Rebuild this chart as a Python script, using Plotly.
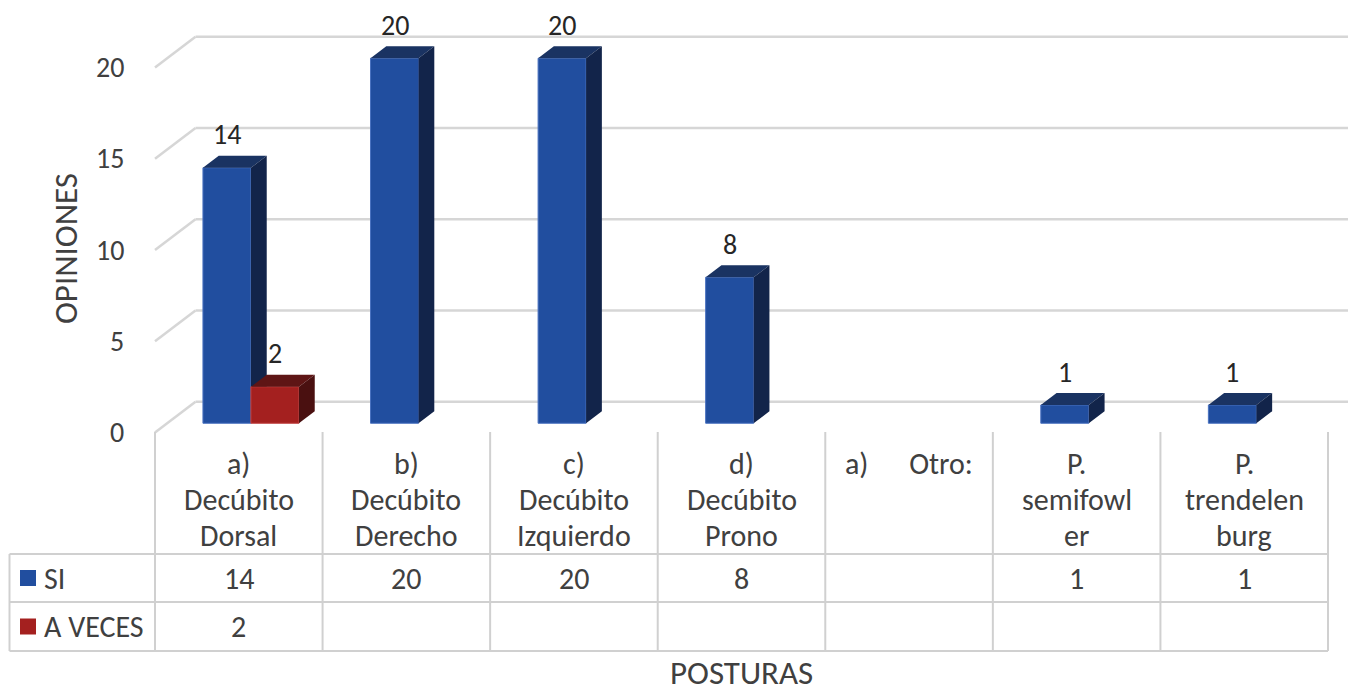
import plotly.graph_objects as go

# ---- data -------------------------------------------------------------
categories = [
    "a)<br>Decúbito<br>Dorsal",
    "b)<br>Decúbito<br>Derecho",
    "c)<br>Decúbito<br>Izquierdo",
    "d)<br>Decúbito<br>Prono",
    "a)\u00a0\u00a0\u00a0\u00a0\u00a0\u00a0Otro:",
    "P.<br>semifowl<br>er",
    "P.<br>trendelen<br>burg",
]
si_values = [14, 20, 20, 8, None, 1, 1]
a_veces_values = [2, None, None, None, None, None, None]
series_names = ["SI", "A VECES"]
y_tick_values = [0, 5, 10, 15, 20]
x_title = "POSTURAS"
y_title = "OPINIONES"

# ---- styling / geometry ----------------------------------------------
W, H = 1348, 694
FONT = "Carlito, Calibri, Lato, sans-serif"
TEXT = "#404040"
GRID = "#D6D6D6"
TABLE_LINE = "#D0D0D0"

FRONT = ["#214E9F", "#A4201F"]
TOP = ["#1A3362", "#5E1515"]
SIDE = ["#12244A", "#4A1010"]
EDGE = ["#4A72C0", "#C04040"]

COL_PX = 167.57          # width of one category column
LEFT_PX = 155.0          # left edge of the first category column
UNIT_PX = 18.25          # pixels per value unit
FLOOR_PX = 432.5         # front edge of the floor (value 0)

WALL_DX_PX, WALL_DY_PX = 40.5, 30.8     # depth of the 3D box
BAR_DEPTH0 = 0.30                        # where bars start inside the box
BAR_DEPTH = 0.39                         # depth of each bar
BAR_W_PX = 48.0

TITLE_SIZE = 33
TABLE_SIZE = 30
TICK_SIZE = 28
LABEL_SIZE = 28


def px_x(px):
    return -0.5 + (px - LEFT_PX) / COL_PX


x_range = [px_x(0), px_x(W)]
y_range = [-(H - FLOOR_PX) / UNIT_PX, FLOOR_PX / UNIT_PX]

wall_dx = WALL_DX_PX / COL_PX
wall_dy = WALL_DY_PX / UNIT_PX
lift_x = BAR_DEPTH0 * wall_dx
lift_y = BAR_DEPTH0 * wall_dy
bar_dx = BAR_DEPTH * wall_dx
bar_dy = BAR_DEPTH * wall_dy
bar_w = BAR_W_PX / COL_PX

# table rows (pixel rows measured from the top)
HEADER_TOP, ROW1_TOP, ROW2_TOP, TABLE_BOTTOM = 432, 554, 602, 651
HEADER_LINES = [463, 499, 535]
LEGEND_LEFT_PX = 9.5

fig = go.Figure()
annotations = []

all_series = [si_values, a_veces_values]
axes_pairs = [("x", "y"), ("x2", "y2")]

for s, values in enumerate(all_series):
    xa, ya = axes_pairs[s]
    # centre of each bar: clustered pair, shifted into the box depth
    xs = [i + lift_x + (s - 0.5) * bar_w for i in range(len(categories))]

    fig.add_trace(go.Bar(
        x=xs, y=values, base=lift_y, width=bar_w,
        marker=dict(color=FRONT[s], line=dict(color=EDGE[s], width=1)),
        name=series_names[s], xaxis=xa, yaxis=ya, showlegend=False,
    ))

    top_x, top_y, side_x, side_y = [], [], [], []
    for xc, v in zip(xs, values):
        if v is None:
            continue
        x0, x1 = xc - bar_w / 2, xc + bar_w / 2
        y0, y1 = lift_y, lift_y + v
        top_x += [x0, x1, x1 + bar_dx, x0 + bar_dx, x0, None]
        top_y += [y1, y1, y1 + bar_dy, y1 + bar_dy, y1, None]
        side_x += [x1, x1 + bar_dx, x1 + bar_dx, x1, x1, None]
        side_y += [y0, y0 + bar_dy, y1 + bar_dy, y1, y0, None]

    fig.add_trace(go.Scatter(
        x=top_x, y=top_y, mode="lines", fill="toself", fillcolor=TOP[s],
        line=dict(width=0, color=TOP[s]), xaxis=xa, yaxis=ya,
        showlegend=False, hoverinfo="skip"))
    fig.add_trace(go.Scatter(
        x=side_x, y=side_y, mode="lines", fill="toself", fillcolor=SIDE[s],
        line=dict(width=0, color=SIDE[s]), xaxis=xa, yaxis=ya,
        showlegend=False, hoverinfo="skip"))

    # value labels above the bars
    for xc, v in zip(xs, values):
        if v is None:
            continue
        annotations.append(dict(
            x=xc, y=lift_y + v + 33 / UNIT_PX, xref=xa, yref=ya,
            text=str(v), showarrow=False,
            font=dict(family=FONT, size=LABEL_SIZE, color="#262626")))

# legend keys inside the data table
row_centres = [(ROW1_TOP + ROW2_TOP) / 2, (ROW2_TOP + TABLE_BOTTOM) / 2]
fig.add_trace(go.Scatter(
    x=[px_x(28), px_x(28)], y=row_centres,
    mode="markers", marker=dict(symbol="square", size=16, color=FRONT),
    xaxis="x", yaxis="y3", showlegend=False, hoverinfo="skip"))

shapes = []
# back wall and side wall gridlines
for v in y_tick_values:
    shapes.append(dict(type="line", xref="x", yref="y", layer="below",
                       x0=-0.5, y0=v, x1=-0.5 + wall_dx, y1=v + wall_dy,
                       line=dict(color=GRID, width=2.5)))
    shapes.append(dict(type="line", xref="x", yref="y", layer="below",
                       x0=-0.5 + wall_dx, y0=v + wall_dy, x1=x_range[1], y1=v + wall_dy,
                       line=dict(color=GRID, width=2.5)))

# data table grid
n = len(categories)
for i in range(n + 1):
    shapes.append(dict(type="line", xref="x", yref="y3",
                       x0=i - 0.5, x1=i - 0.5, y0=HEADER_TOP, y1=TABLE_BOTTOM,
                       line=dict(color=TABLE_LINE, width=2)))
shapes.append(dict(type="line", xref="x", yref="y3",
                   x0=px_x(LEGEND_LEFT_PX), x1=px_x(LEGEND_LEFT_PX),
                   y0=ROW1_TOP, y1=TABLE_BOTTOM,
                   line=dict(color=TABLE_LINE, width=2)))
for yy in (ROW1_TOP, ROW2_TOP, TABLE_BOTTOM):
    shapes.append(dict(type="line", xref="x", yref="y3",
                       x0=px_x(LEGEND_LEFT_PX), x1=n - 0.5, y0=yy, y1=yy,
                       line=dict(color=TABLE_LINE, width=2)))

TABLE_FONT = dict(family=FONT, size=TABLE_SIZE, color=TEXT)

# category headers
for i, label in enumerate(categories):
    for k, line in enumerate(label.split("<br>")):
        annotations.append(dict(x=i, y=HEADER_LINES[k], xref="x", yref="y3",
                                text=line, showarrow=False, font=TABLE_FONT))

# table values and series names
for s, values in enumerate(all_series):
    annotations.append(dict(x=px_x(42), y=row_centres[s], xref="x", yref="y3",
                            xanchor="left", text=series_names[s],
                            showarrow=False, font=TABLE_FONT))
    for i, v in enumerate(values):
        if v is None:
            continue
        annotations.append(dict(x=i, y=row_centres[s], xref="x", yref="y3",
                                text=str(v), showarrow=False, font=TABLE_FONT))

# value axis labels on the front edge
for v in y_tick_values:
    annotations.append(dict(x=px_x(126), y=v, xref="x", yref="y",
                            xanchor="right", text=str(v), showarrow=False,
                            font=dict(family=FONT, size=TICK_SIZE, color=TEXT)))

# axis titles
annotations.append(dict(x=px_x(66), y=249, xref="x", yref="y3", text=y_title,
                        textangle=-90, showarrow=False,
                        font=dict(family=FONT, size=TITLE_SIZE, color=TEXT)))
annotations.append(dict(x=3, y=694, xref="x", yref="y3", yanchor="bottom",
                        text=x_title, showarrow=False, borderpad=0,
                        font=dict(family=FONT, size=TITLE_SIZE, color=TEXT)))

hidden = dict(visible=False, showgrid=False, zeroline=False, fixedrange=True)
fig.update_layout(
    width=W, height=H,
    margin=dict(l=0, r=0, t=0, b=0),
    paper_bgcolor="white", plot_bgcolor="white",
    barmode="overlay", hovermode=False, showlegend=False,
    xaxis=dict(range=x_range, domain=[0, 1], **hidden),
    yaxis=dict(range=y_range, domain=[0, 1], **hidden),
    xaxis2=dict(range=x_range, overlaying="x", **hidden),
    yaxis2=dict(range=y_range, overlaying="y", **hidden),
    yaxis3=dict(range=[H, 0], overlaying="y", **hidden),
    shapes=shapes, annotations=annotations,
)

fig.write_html("out.html")
